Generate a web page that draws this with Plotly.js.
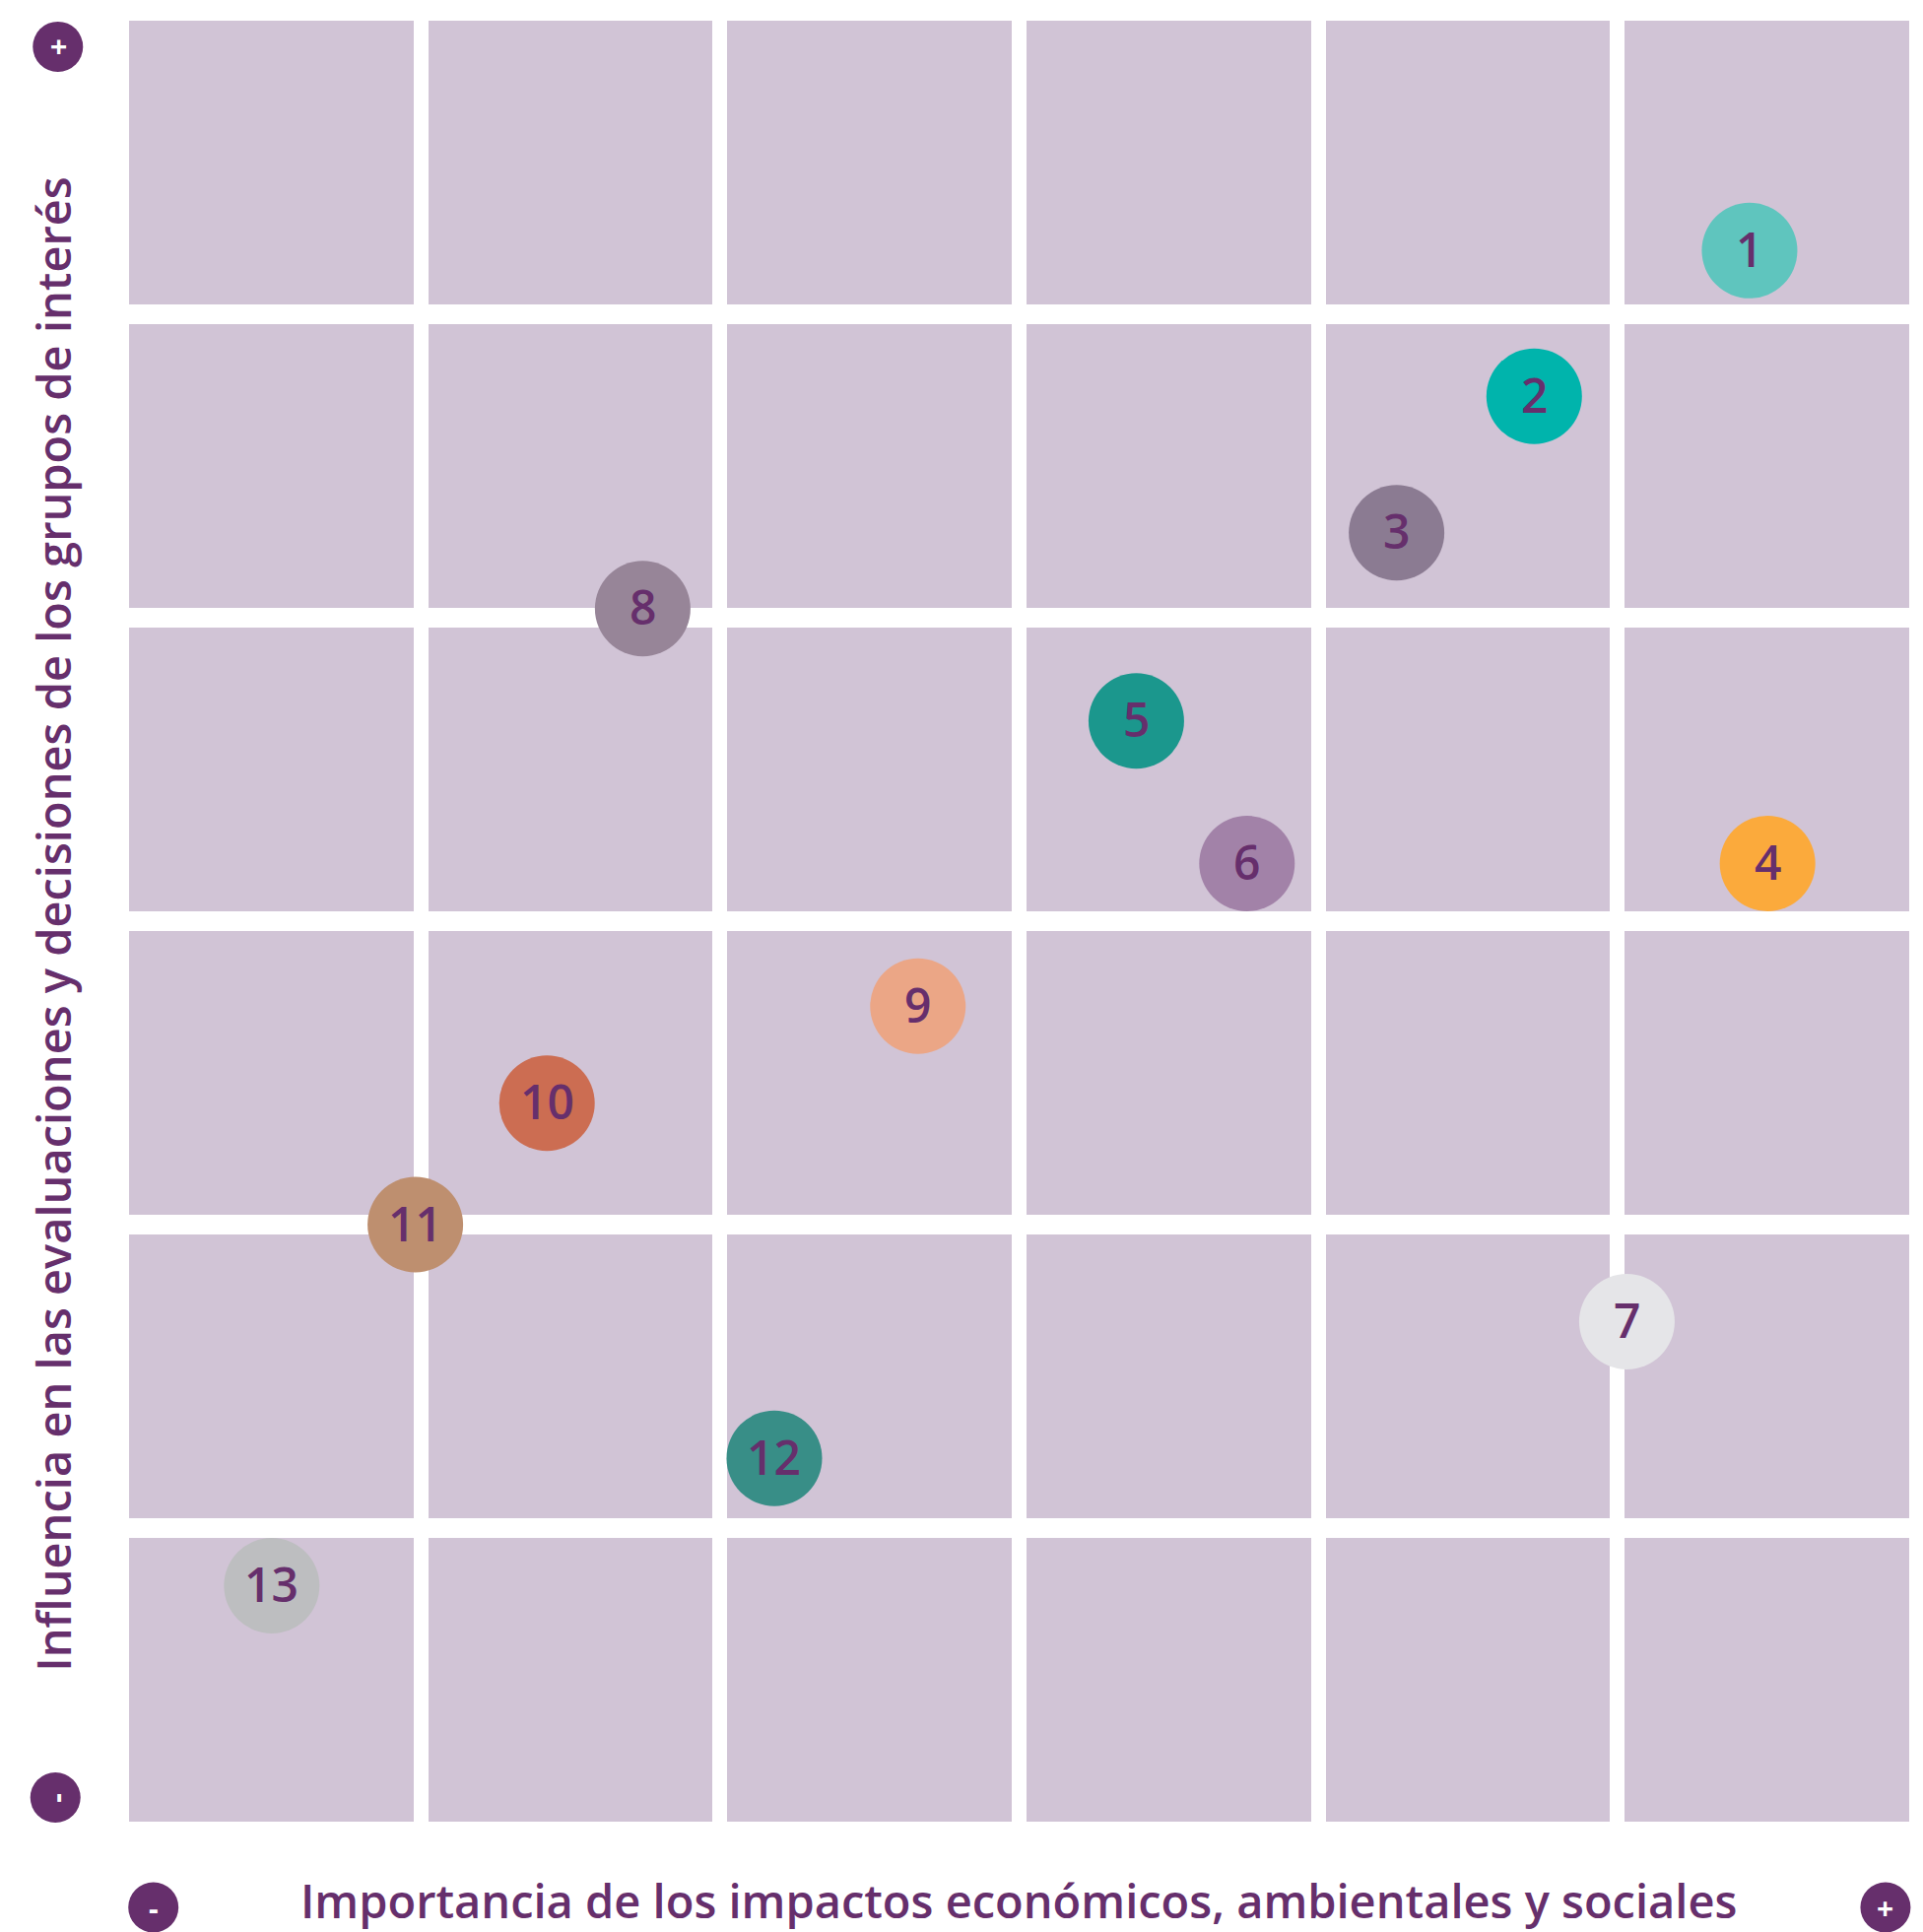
<!DOCTYPE html>
<html>
<head>
<meta charset="utf-8">
<script src="https://cdn.plot.ly/plotly-3.0.1.min.js"></script>
<style>html,body{margin:0;padding:0;background:#fff;}#chart{width:1952px;height:1961px;}</style>
</head>
<body>
<div id="chart"></div>
<script>
// Grid (6 x 6 matrix of cells)
const gridCols = [0.5, 1.5, 2.5, 3.5, 4.5, 5.5];
const gridRows = [0.5, 1.5, 2.5, 3.5, 4.5, 5.5];

// Material topics
const topicLabels = ["1","2","3","4","5","6","7","8","9","10","11","12","13"];
const importance = [5.44, 4.72, 4.26, 5.50, 3.39, 3.76, 5.03, 1.74, 2.66, 1.42, 0.98, 2.18, 0.50];
const influence  = [5.21, 4.73, 4.28, 3.19, 3.66, 3.19, 1.68, 4.03, 2.72, 2.40, 2.00, 1.23, 0.81];
const topicColors = ["#5FC5BE","#00B4AC","#8B7B92","#FBAA3C","#1B978D","#A282A8","#E5E5E8",
                     "#978598","#EBA686","#CC6D52","#BE8F6F","#388E87","#BDBEC0"];

const xTitle = "Importancia de los impactos económicos, ambientales y sociales";
const yTitle = "Influencia en las evaluaciones y decisiones de los grupos de interés";

const purple = "#662F6C";
const cellColor = "#D1C4D6";
const fontFam = "'Open Sans', Lato, sans-serif";

const z = gridRows.map(() => gridCols.map(() => 1));

const cells = {
  type: "heatmap",
  x: gridCols, y: gridRows, z: z,
  colorscale: [[0, cellColor], [1, cellColor]],
  showscale: false, xgap: 15, ygap: 20, hoverinfo: "skip"
};

const bubbles = {
  type: "scatter", mode: "markers",
  x: importance, y: influence,
  marker: {size: 97, color: topicColors, line: {width: 0}, opacity: 1},
  cliponaxis: false, hoverinfo: "skip"
};

const labelAnnotations = topicLabels.map((t, i) => ({
  xref: "x", yref: "y", x: importance[i], y: influence[i],
  xanchor: "center", yanchor: "middle", yshift: 2,
  text: t, showarrow: false,
  font: {family: fontFam, size: 48, color: purple, weight: 600}
}));

function signCircle(xp, yp) {
  return {type: "circle", xref: "paper", yref: "paper", xsizemode: "pixel", ysizemode: "pixel",
          xanchor: xp, yanchor: yp, x0: -25.5, x1: 25.5, y0: -25.5, y1: 25.5,
          fillcolor: purple, line: {width: 0}, layer: "above"};
}
function signText(xp, yp, t, ang) {
  return {xref: "paper", yref: "paper", x: xp, y: yp, xanchor: "center", yanchor: "middle",
          text: t, showarrow: false, textangle: ang,
          font: {family: fontFam, size: 30, color: "#ffffff", weight: 700}};
}

const signs = [
  [-0.0358, 0.9803, "+", -90],
  [-0.0372, 0.0187, "-", -90],
  [0.0174, -0.0417, "-", 0],
  [0.9824, -0.0417, "+", 0]
];

const layout = {
  width: 1952, height: 1961,
  margin: {l: 124, r: 6, t: 11, b: 102, autoexpand: false},
  paper_bgcolor: "#ffffff", plot_bgcolor: "#ffffff",
  showlegend: false,
  xaxis: {range: [0, 6], visible: false, fixedrange: true},
  yaxis: {range: [0, 6], visible: false, fixedrange: true},
  shapes: signs.map(s => signCircle(s[0], s[1])),
  annotations: labelAnnotations.concat(signs.map(s => signText(s[0], s[1], s[2], s[3]))).concat([
    {xref: "paper", yref: "paper", x: 0.4995, y: -0.0378, xanchor: "center", yanchor: "middle",
     text: xTitle, showarrow: false, font: {family: fontFam, size: 47, color: purple, weight: 600}},
    {xref: "paper", yref: "paper", x: -0.0385, y: 0.4985, xanchor: "center", yanchor: "middle",
     text: yTitle, showarrow: false, textangle: -90,
     font: {family: fontFam, size: 47, color: purple, weight: 600}}
  ])
};

Plotly.newPlot("chart", [cells, bubbles], layout, {staticPlot: true, displayModeBar: false});
</script>
</body>
</html>
